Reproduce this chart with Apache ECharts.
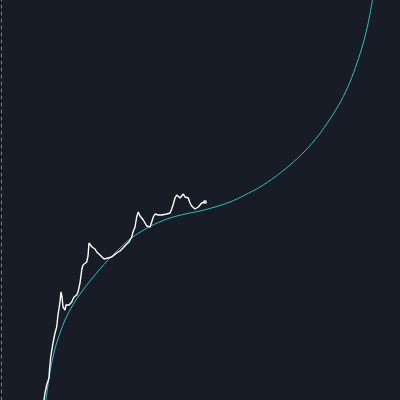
<!DOCTYPE html>
<html>
<head>
<meta charset="utf-8">
<script src="https://cdn.jsdelivr.net/npm/echarts@6/dist/echarts.min.js"></script>
<style>
html,body{margin:0;padding:0;background:#181c26;}
#chart{width:400px;height:400px;}
</style>
</head>
<body>
<div id="chart"></div>
<script>
// price series (x = time index, y = value)
var priceX = [44,45,46.7,48,49,49.5,50.7,52,53,55,56.7,57.3,58,60,61,62,63,65,66,67,69,71.7,74,76.7,78,80,81.7,83,85,86.7,88,89,90.7,92,93,95,96.7,98,100,101.7,104,106,108,111.7,113,116.7,120,123,126.7,129,131.7,133,135,136.7,138.3,140,141.7,143.3,145,146.7,148.3,150,151.7,153.3,155,156.7,158.3,160,161.7,163.3,166.7,170,171.7,173.3,175,176.7,178.3,180,181.7,183.3,185,186.7,188.3,190,191.7,193.3,195,196.7,198.3,200,201.7,203.3,205];
var priceY = [0,7,15,13,22,30,43,45,57,67,73,75,85,98,108,103,93,90,95,93,95,98,103,105,108,117,130,135,133,138,144,157,159,153,152,151,148,146,145,143,141,140,142,143,144,147,149,152,156,158,163,168,173,183,188,184,182,180,177,174,172,173,178,183,186,184,185,184,185,186,186,187,191,196,202,205,203,202,204,206,203,202,202,197,194,193,191,191,193,195,197,198,198];
// fitted model curve
var modelX = [46,48,50,53,56,60,65,70,76,83,90,100,108,118,130,142,155,170,185,200,215,230,245,260,275,290,305,318,330,341,350,357,363,368,372.5];
var modelY = [0,15,28,43,55,67,80,90,100,110,119,131,140,150,161,169,176,182,186,189,193,198,205,213,223,235,249,264,281,299,318,337,356,376,400];

function pairs(xs, ys){ return xs.map(function(x,i){ return [x, ys[i]]; }); }

var chart = echarts.init(document.getElementById('chart'));
chart.setOption({
  backgroundColor: '#181c26',
  animation: false,
  grid: {left: 1, right: 0, top: 0, bottom: 0},
  xAxis: {type: 'value', min: 1, max: 400, show: false},
  yAxis: {
    type: 'value', min: 0, max: 400,
    axisLine: {show: true, lineStyle: {color: '#7a7f88', width: 1, type: [3, 4]}},
    axisTick: {show: false}, axisLabel: {show: false}, splitLine: {show: false}
  },
  series: [
    {
      type: 'line', data: pairs(modelX, modelY), smooth: 0.3, showSymbol: false,
      lineStyle: {color: '#3bb8c6', width: 1}, z: 2
    },
    {
      type: 'line', data: pairs(priceX, priceY), showSymbol: false,
      lineStyle: {color: '#ffffff', width: 1.4}, z: 3
    },
    {
      type: 'scatter', data: [[priceX[priceX.length-1], priceY[priceY.length-1]]],
      symbolSize: 4, itemStyle: {color: '#ffffff'}, z: 4
    }
  ]
});
</script>
</body>
</html>
